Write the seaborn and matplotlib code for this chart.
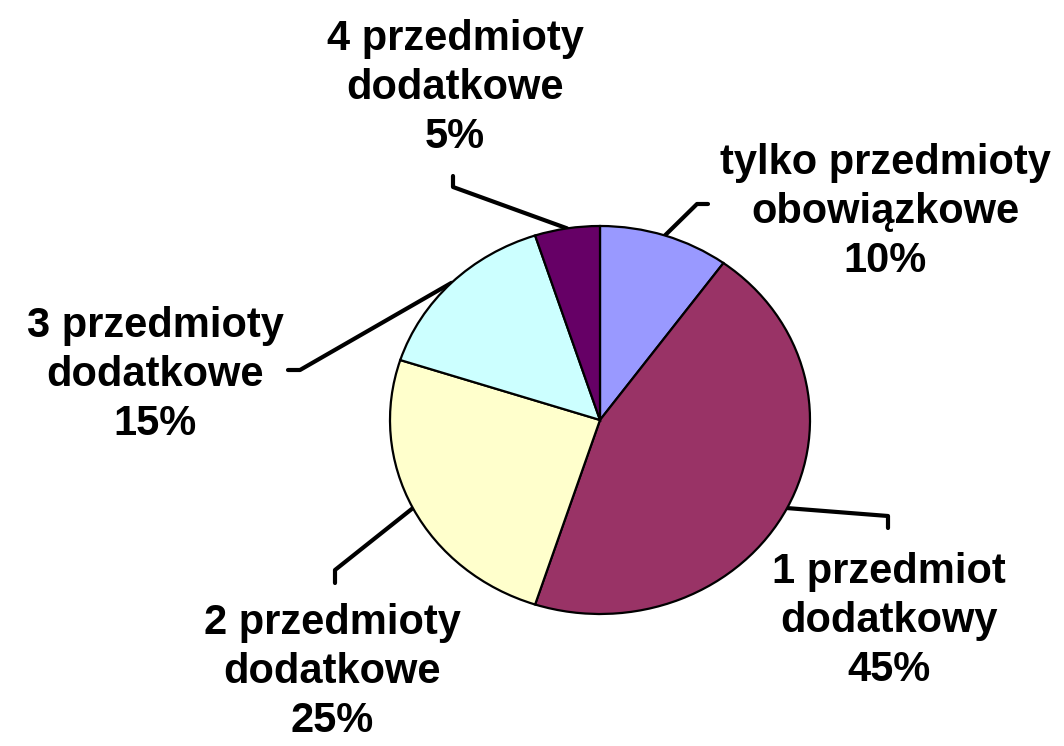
import numpy as np
import matplotlib
matplotlib.use("Agg")
import matplotlib.pyplot as plt
import seaborn as sns

labels = ["tylko przedmioty\nobowiązkowe", "1 przedmiot\ndodatkowy", "2 przedmioty\ndodatkowe",
          "3 przedmioty\ndodatkowe", "4 przedmioty\ndodatkowe"]
values = [10, 45, 25, 15, 5]
colors = ["#9999FF", "#993366", "#FFFFCC", "#CCFFFF", "#660066"]

sns.set_theme(style="white")
plt.rcParams['font.family'] = ['Liberation Sans', 'DejaVu Sans']

W, H = 1064, 746
CX, CY, RX, RY = 600, 420, 210, 194

fig = plt.figure(figsize=(W / 100, H / 100), dpi=100)
ax = fig.add_axes([0, 0, 1, 1])

def px(x, y):
    return (x - CX) / RX, (CY - y) / RY

wedges, _ = ax.pie(values, colors=colors, startangle=90, counterclock=False, radius=1,
                   wedgeprops=dict(edgecolor="black", linewidth=1.6))

ax.set_xlim(-CX / RX, (W - CX) / RX)
ax.set_ylim(-(H - CY) / RY, CY / RY)
ax.set_aspect('auto')
ax.axis('off')

# label layout: (elbow point, end point, text center) in pixels
layout = [
    ((697, 204), (708, 204), (885, 212)),
    ((888, 516), (888, 528), (889, 621)),
    ((335, 570), (335, 583), (332, 672)),
    ((300, 370), (288, 370), (155, 375)),
    ((453, 187), (453, 176), (455, 88)),
]

for w, v, lab, (elb, end, tc) in zip(wedges, values, labels, layout):
    ang = np.deg2rad((w.theta1 + w.theta2) / 2)
    sx, sy = np.cos(ang), np.sin(ang)
    ex, ey = px(*elb)
    nx, ny = px(*end)
    ax.plot([sx, ex, nx], [sy, ey, ny], color="black", lw=3, solid_capstyle="round",
            solid_joinstyle="round", zorder=0)
    tx, ty = px(*tc)
    ax.text(tx, ty, f"{lab}\n{v}%", ha="center", va="center", fontsize=30,
            fontweight="bold", linespacing=1.28, color="black")

fig.savefig("out.png", dpi=100)
